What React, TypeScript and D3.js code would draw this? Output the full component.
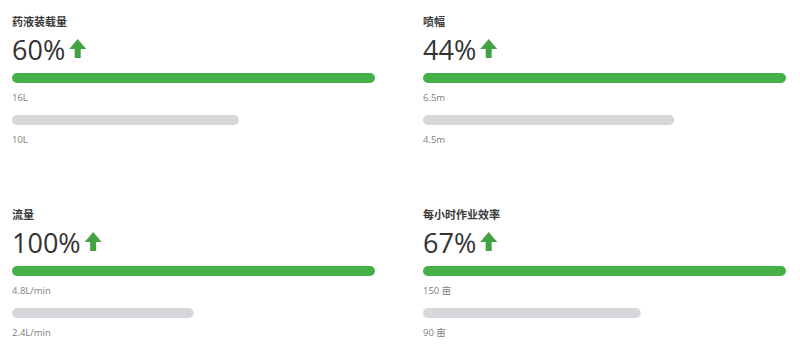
import { useEffect, useRef } from "react";
import * as d3 from "d3";

const titles = ["药液装载量", "喷幅", "流量", "每小时作业效率"];
const newValues = [16, 6.5, 4.8, 150];
const oldValues = [10, 4.5, 2.4, 90];
const units = ["L", "m", "L/min", " 亩"];

const W = 800;
const H = 362;
const FONT = "'Open Sans', 'Noto Sans CJK SC', sans-serif";

export default function App() {
  const ref = useRef<SVGSVGElement>(null);

  useEffect(() => {
    const svg = d3.select(ref.current);
    svg.selectAll("*").remove();

    const barW = 363;
    const col = d3.scaleOrdinal<number, number>().domain([0, 1]).range([12, 423]);
    const row = d3.scaleOrdinal<number, number>().domain([0, 1]).range([0, 193]);

    titles.forEach((t, i) => {
      const g = svg
        .append("g")
        .attr("transform", `translate(${col(i % 2)},${row(Math.floor(i / 2))})`);

      const x = d3.scaleLinear().domain([0, newValues[i]]).range([0, barW]);
      const pct = Math.round(((newValues[i] - oldValues[i]) / oldValues[i]) * 100);

      g.append("text")
        .attr("x", 0)
        .attr("y", 26)
        .attr("font-size", 11)
        .attr("font-weight", 600)
        .attr("fill", "#3a3a3a")
        .text(t);

      const big = g
        .append("text")
        .attr("x", 0)
        .attr("y", 60)
        .attr("font-size", 27)
        .attr("font-weight", 500)
        .attr("fill", "#333")
        .text(`${pct}%`);

      const tw = (big.node() as SVGTextElement).getComputedTextLength();
      const ax = tw + 4;
      // up arrow
      g.append("path")
        .attr(
          "d",
          `M${ax + 8.5},39 L${ax + 17},49 L${ax + 11.5},49 L${ax + 11.5},58 L${ax + 5.5},58 L${ax + 5.5},49 L${ax},49 Z`
        )
        .attr("fill", "#43a243");

      const bars = [
        { v: newValues[i], y: 73, color: "#45b048" },
        { v: oldValues[i], y: 115, color: "#d5d7da" },
      ];

      bars.forEach((b) => {
        g.append("rect")
          .attr("x", 0)
          .attr("y", b.y)
          .attr("width", x(b.v))
          .attr("height", 10)
          .attr("rx", 5)
          .attr("fill", b.color);

        g.append("text")
          .attr("x", 0)
          .attr("y", b.y + 28)
          .attr("font-size", 9.5)
          .attr("fill", "#808080")
          .text(`${b.v}${units[i]}`);
      });
    });
  }, []);

  return (
    <svg
      ref={ref}
      width={W}
      height={H}
      style={{ position: "absolute", left: 0, top: 0, background: "#fff", fontFamily: FONT }}
    ></svg>
  );
}
